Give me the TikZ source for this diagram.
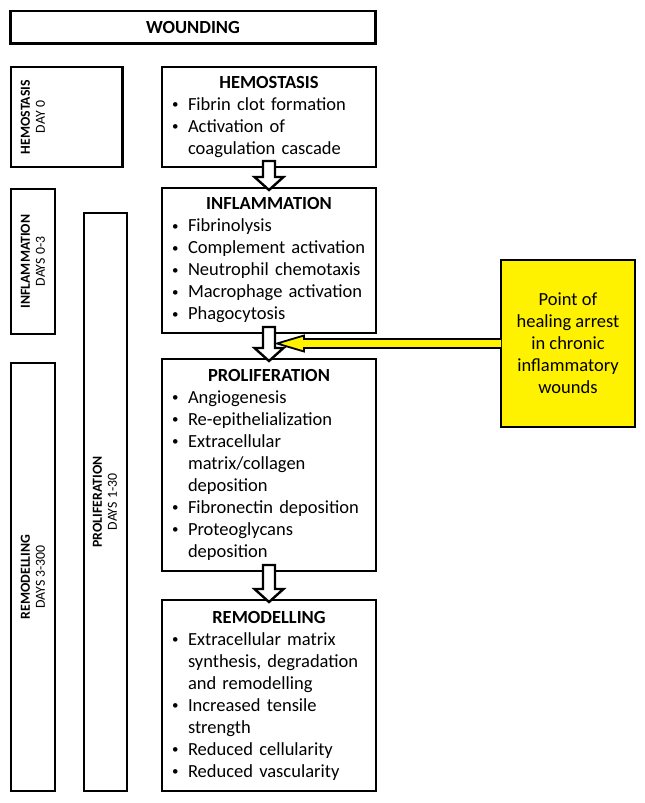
\documentclass[tikz,border=0pt]{standalone}
\usepackage{fontspec}
\setmainfont{Carlito}
\usetikzlibrary{calc}
\tikzset{
  bar/.style={draw, line width=2.8pt, inner sep=0pt, outer sep=0pt},
  stagebox/.style={bar, text width=200pt, inner xsep=7pt, inner ysep=4pt, align=left,
    font=\fontsize{18.5}{22}\selectfont},
  sidelabel/.style={rotate=90, anchor=north, inner sep=0pt, align=center,
    font=\fontsize{13.8}{15}\selectfont},
  notebox/.style={bar, fill=yellow, align=center, font=\fontsize{18.5}{22}\selectfont},
  stagearrow/.style={draw, fill=white, line width=2.4pt, line join=miter},
  arrestarrow/.style={draw, fill=yellow, line width=1.8pt, line join=miter}
}
\newcommand{\itm}[1]{\par\hangindent=19pt\hangafter=1\noindent\makebox[19pt][l]{\hspace{3pt}\raisebox{1.6pt}{\scalebox{0.7}{\textbullet}}}#1\par}
\begin{document}
\begin{tikzpicture}[x=1pt, y=-1pt]
\useasboundingbox (0,0) rectangle (645,803);
% Herida
\node[bar, minimum width=365pt, minimum height=32.5pt, font=\fontsize{18.5}{22}\selectfont\bfseries] (wound) at (193,27.25) {WOUNDING};
% Columnas de tiempo
\node[bar, minimum width=111.5pt, minimum height=100pt] (hemoside) at (66.75,117) {};
\node[sidelabel] (hemosidetext) at ($(hemoside.west)+(9.5,0)$) {\textbf{HEMOSTASIS}\\DAY 0};
\node[bar, minimum width=44pt, minimum height=145pt] (inflside) at (33,261.5) {};
\node[sidelabel] (inflsidetext) at ($(inflside.west)+(9.5,0)$) {\textbf{INFLAMMATION}\\DAYS 0-3};
\node[bar, minimum width=44pt, minimum height=428pt] (remodside) at (33,577) {};
\node[sidelabel] (remodsidetext) at ($(remodside.west)+(9.5,0)$) {\textbf{REMODELLING}\\DAYS 3-300};
\node[bar, minimum width=43pt, minimum height=578pt] (prolifside) at (105.5,502) {};
\node[sidelabel] (prolifsidetext) at ($(prolifside.west)+(8.5,0)$) {\textbf{PROLIFERATION}\\DAYS 1-30};
% Fases
\node[stagebox, minimum height=100pt] (hemo) at (269,117) {{\centering\bfseries HEMOSTASIS\par}
  \itm{Fibrin clot formation}
  \itm{Activation of\newline coagulation cascade}};
\node[stagebox, minimum height=145pt] (infl) at (269,260.5) {{\centering\bfseries INFLAMMATION\par}
  \itm{Fibrinolysis}
  \itm{Complement activation}
  \itm{Neutrophil chemotaxis}
  \itm{Macrophage activation}
  \itm{Phagocytosis}};
\node[stagebox, minimum height=212pt] (prolif) at (269,465) {{\centering\bfseries PROLIFERATION\par}
  \itm{Angiogenesis}
  \itm{Re-epithelialization}
  \itm{Extracellular\newline matrix/collagen\newline deposition}
  \itm{Fibronectin deposition}
  \itm{Proteoglycans\newline deposition}};
\node[stagebox, minimum height=191pt] (remod) at (269,695.5) {{\centering\bfseries REMODELLING\par}
  \itm{Extracellular matrix\newline synthesis, degradation\newline and remodelling}
  \itm{Increased tensile\newline strength}
  \itm{Reduced cellularity}
  \itm{Reduced vascularity}};
% Flechas entre fases
\foreach \a/\b in {hemo/infl, infl/prolif, prolif/remod}
  \draw[stagearrow] ($(\a.south)+(-6,-6)$) -- ($(\b.north)+(-6,-11)$) -- ($(\b.north)+(-14.5,-11)$)
    -- ($(\b.north)+(0,2)$) -- ($(\b.north)+(14.5,-11)$) -- ($(\b.north)+(6,-11)$)
    -- ($(\a.south)+(6,-6)$) -- cycle;
% Punto de detencion
\node[notebox, minimum width=134pt, minimum height=167pt] (note) at (568,343.5) {Point of\\healing arrest\\in chronic\\inflammatory\\wounds};
\coordinate (arrest) at (277,343.5);
\draw[arrestarrow] ($(note.west)+(0,-4.5)$) -- ($(arrest)+(27,-4.5)$) -- ($(arrest)+(27,-8)$)
  -- (arrest) -- ($(arrest)+(27,8)$) -- ($(arrest)+(27,4.5)$) -- ($(note.west)+(0,4.5)$);
\end{tikzpicture}
\end{document}
